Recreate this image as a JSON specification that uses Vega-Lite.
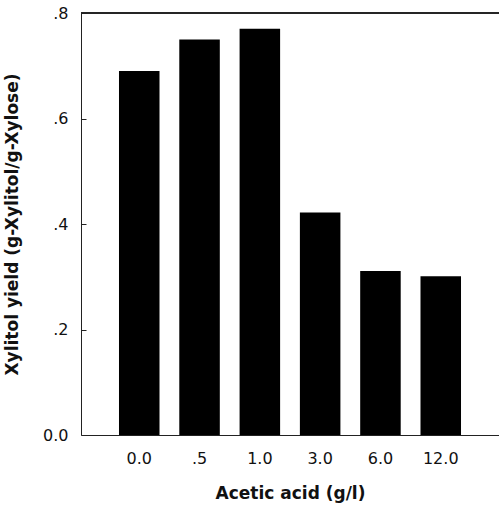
{
  "$schema": "https://vega.github.io/schema/vega-lite/v6.json",
  "autosize": "none",
  "width": 418,
  "height": 422,
  "padding": {"left": 81, "top": 13, "right": 0, "bottom": 72},
  "background": "white",
  "config": {
    "view": {"stroke": null},
    "axis": {
      "labelFont": "DejaVu Sans",
      "labelFontSize": 16,
      "labelColor": "#111",
      "titleFont": "DejaVu Sans",
      "titleFontSize": 17,
      "titleFontWeight": "bold",
      "titleColor": "#111",
      "domainColor": "#222",
      "tickColor": "#222",
      "grid": false
    }
  },
  "data": {
    "values": [
      {"acid": "0.0", "yield": 0.69},
      {"acid": ".5", "yield": 0.75},
      {"acid": "1.0", "yield": 0.77},
      {"acid": "3.0", "yield": 0.422},
      {"acid": "6.0", "yield": 0.311},
      {"acid": "12.0", "yield": 0.301}
    ]
  },
  "layer": [
    {
      "mark": {"type": "bar", "color": "#000"},
      "encoding": {
        "x": {
          "field": "acid",
          "type": "nominal",
          "sort": null,
          "scale": {"paddingInner": 0.328, "paddingOuter": 0.63},
          "axis": {
            "title": "Acetic acid (g/l)",
            "labelAngle": 0,
            "ticks": false,
            "labelPadding": 15,
            "titlePadding": 19
          }
        },
        "y": {
          "field": "yield",
          "type": "quantitative",
          "scale": {"domain": [0, 0.8], "nice": false},
          "axis": {
            "title": "Xylitol yield (g-Xylitol/g-Xylose)",
            "values": [0, 0.2, 0.4, 0.6, 0.8],
            "labelExpr": "datum.value == 0 ? '0.0' : replace(format(datum.value, '.1f'), '0.', '.')",
            "tickSize": -5,
            "labelPadding": 18,
            "titlePadding": 21
          }
        }
      }
    },
    {
      "mark": {"type": "rule", "color": "#222", "strokeWidth": 1},
      "encoding": {"y": {"datum": 0.8}}
    }
  ]
}
